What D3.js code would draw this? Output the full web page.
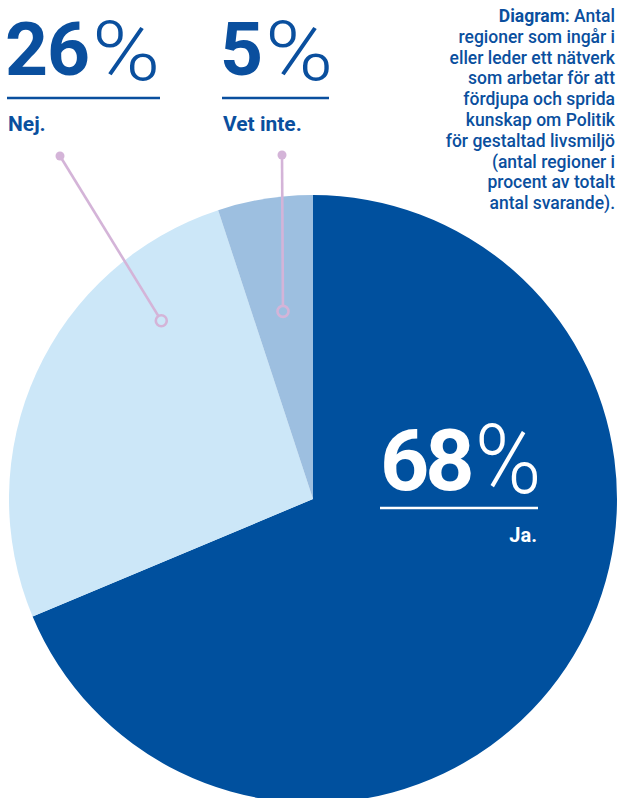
<!DOCTYPE html>
<html><head><meta charset="utf-8">
<script src="https://cdn.jsdelivr.net/npm/d3@7"></script>
<style>
html,body{margin:0;padding:0;background:#fff;overflow:hidden}
svg{display:block}
</style></head>
<body>
<svg id="chart" width="621" height="798"></svg>
<script>
const categories = ["Ja.", "Nej.", "Vet inte."];
const values = [68, 26, 5];
const percentLabels = ["68", "26", "5"];
const colors = ["#00509e", "#cce7f8", "#9dbfe0"];
const titleBold = "Diagram:";
const titleLines = [" Antal", "regioner som ingår i", "eller leder ett nätverk", "som arbetar för att",
  "fördjupa och sprida", "kunskap om Politik", "för gestaltad livsmiljö", "(antal regioner i",
  "procent av totalt", "antal svarande)."];

const svg = d3.select("#chart");
const cx = 313, cy = 499, R = 304;
const blue = "#0a4f9e", pink = "#d4b4d8";
const font = "Roboto, 'Noto Sans', sans-serif";

const pie = d3.pie().sort(null).value(d => d)(values);
const arc = d3.arc().innerRadius(0).outerRadius(R);
const g = svg.append("g").attr("transform", `translate(${cx},${cy})`);
g.selectAll("path").data(pie).join("path")
  .attr("d", arc).attr("fill", (d, i) => colors[i]);

// leaders: anchor within slice (fraction of angle span, fraction of radius) -> label dot
const leaderSpec = [null, {af: 0.765, rf: 0.77, dot: [60, 156]}, {af: 0.5, rf: 0.625, dot: [282, 155]}];
leaderSpec.forEach((s, i) => {
  if (!s) return;
  const p = pie[i];
  const a = p.startAngle + (p.endAngle - p.startAngle) * s.af;
  const [px, py] = d3.pointRadial(a, R * s.rf);
  const ax = cx + px, ay = cy + py;
  const dx = s.dot[0] - ax, dy = s.dot[1] - ay, L = Math.hypot(dx, dy);
  const rr = 6;
  svg.append("line").attr("x1", ax + dx / L * rr).attr("y1", ay + dy / L * rr)
    .attr("x2", s.dot[0]).attr("y2", s.dot[1])
    .attr("stroke", pink).attr("stroke-width", 2.6);
  svg.append("circle").attr("cx", s.dot[0]).attr("cy", s.dot[1]).attr("r", 4.5).attr("fill", pink);
  svg.append("circle").attr("cx", ax).attr("cy", ay).attr("r", 5.5)
    .attr("fill", "none").attr("stroke", pink).attr("stroke-width", 2.6);
});

// big labels
function bigLabel(o) {
  const color = o.color;
  const digits = svg.append("text").attr("x", o.x).attr("y", o.y)
    .attr("font-family", font).attr("fill", color).attr("font-size", o.fs)
    .attr("font-weight", 700).attr("letter-spacing", o.ls).text(percentLabels[o.idx]);
  const w = digits.node().getComputedTextLength();
  const px = o.x + w + o.gap, py = o.y + o.pdy;
  svg.append("text").attr("transform", `translate(${px},${py}) scale(${o.sx},1)`)
    .attr("font-family", font).attr("fill", color).attr("font-size", o.pfs)
    .attr("font-weight", 300).text("%");
  svg.append("line").attr("x1", o.l1).attr("x2", o.l2).attr("y1", o.ly).attr("y2", o.ly)
    .attr("stroke", color).attr("stroke-width", 2.6);
  svg.append("text").attr("x", o.end ? o.l2 - 1 : o.l1 + 1).attr("y", o.sy)
    .attr("font-family", font).attr("font-weight", 700).attr("font-size", o.end ? 20 : 21)
    .attr("fill", color).attr("text-anchor", o.end ? "end" : "start")
    .text(categories[o.idx]);
}
bigLabel({idx: 1, x: 5, y: 75, fs: 75, ls: -1, gap: 3, pfs: 84, pdy: 5, sx: 1.1,
  color: blue, l1: 7, l2: 160, ly: 98, sy: 131});
bigLabel({idx: 2, x: 220, y: 75, fs: 75, ls: -1, gap: 3, pfs: 84, pdy: 5, sx: 1.1,
  color: blue, l1: 222, l2: 329, ly: 98, sy: 131});
bigLabel({idx: 0, x: 380, y: 490, fs: 86, ls: -4, gap: 4, pfs: 96, pdy: 3, sx: 0.94,
  color: "#ffffff", end: true, l1: 380, l2: 538, ly: 508, sy: 542});

// title block
const tx = 615;
titleLines.forEach((ln, i) => {
  const t = svg.append("text").attr("x", tx).attr("y", 22 + i * 20.8)
    .attr("text-anchor", "end").attr("font-family", font).attr("font-size", 17.5)
    .attr("font-weight", 500).attr("fill", blue);
  if (i === 0) {
    t.append("tspan").attr("font-weight", 700).text(titleBold);
    t.append("tspan").text(ln);
  } else {
    t.text(ln);
  }
});
</script>
</body></html>
